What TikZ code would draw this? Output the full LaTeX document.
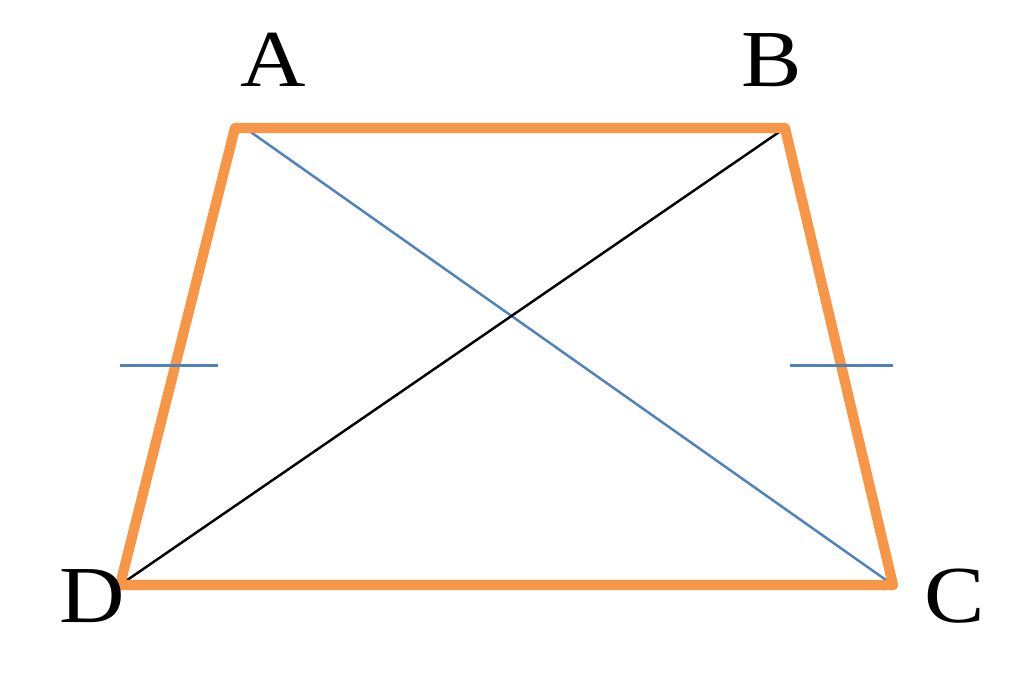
\documentclass[tikz,border=0pt]{standalone}
\usepackage{fontspec}
\setmainfont{Liberation Serif}[FakeStretch=1.12]
\usetikzlibrary{calc}
\definecolor{trapOrange}{RGB}{247,150,70}
\definecolor{diagBlue}{RGB}{79,129,189}

\begin{document}
\begin{tikzpicture}[x=0.01cm,y=-0.01cm,
    side/.style={trapOrange, line width=2.9pt, line join=round},
    diag/.style={line width=0.7pt},
    tick/.style={diagBlue, line width=0.9pt},
    lbl/.style={font=\fontsize{23}{27}\selectfont, inner sep=0pt}]

    \useasboundingbox (0,0) rectangle (1024,680);

    % sommets du trapeze
    \coordinate (A) at (235,128);
    \coordinate (B) at (785,128);
    \coordinate (C) at (893,585);
    \coordinate (D) at (120,585);

    % diagonales
    \draw[diag, diagBlue] ($(A)+(10,0)$) -- (C);
    \draw[diag, black] (B) -- (D);

    % cotes
    \draw[side] (A) -- (B) -- (C) -- (D) -- cycle;

    % marques des cotes egaux
    \coordinate (mAD) at ($(A)!0.519!(D)$);
    \coordinate (mBC) at ($(B)!0.519!(C)$);
    \draw[tick] ([xshift=-0.55cm]mAD) -- ([xshift=0.43cm]mAD);
    \draw[tick] ([xshift=-0.51cm]mBC) -- ([xshift=0.52cm]mBC);

    % etiquettes
    \node[lbl] (labA) at (273,60) {A};
    \node[lbl] (labB) at (772,60) {B};
    \node[lbl] (labC) at (955,596) {C};
    \node[lbl] (labD) at (92,596) {D};
\end{tikzpicture}
\end{document}
